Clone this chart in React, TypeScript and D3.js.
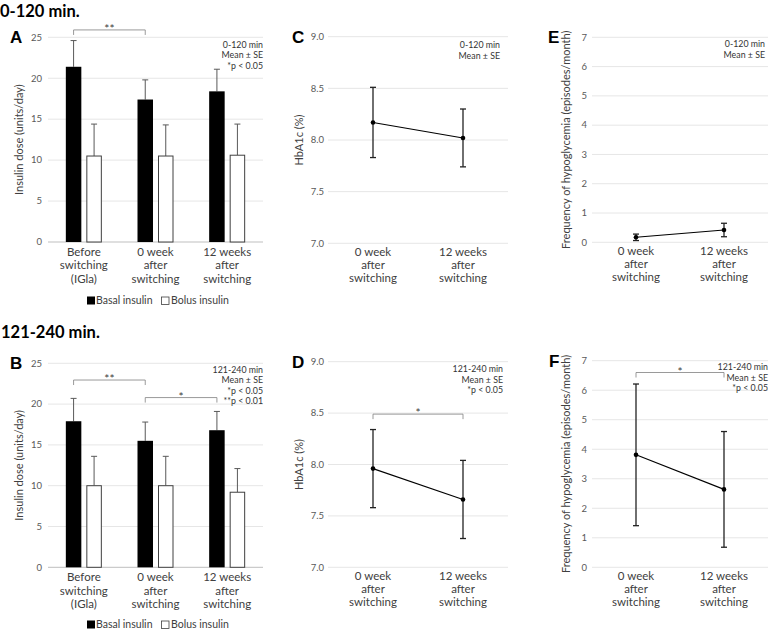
import React from "react";
import * as d3 from "d3";

// ---------- data ----------
const barCategories = [
  ["Before", "switching", "(IGla)"],
  ["0 week", "after", "switching"],
  ["12 weeks", "after", "switching"],
];
const lineCategories = [
  ["0 week", "after", "switching"],
  ["12 weeks", "after", "switching"],
];
const barTicks = [0, 5, 10, 15, 20, 25];
const hba1cTicks = [7.0, 7.5, 8.0, 8.5, 9.0];
const hypoTicks = [0, 1, 2, 3, 4, 5, 6, 7];

// Panel A (0-120 min)
const basalA = [21.4, 17.4, 18.4];
const basalASE = [3.2, 2.4, 2.7];
const bolusA = [10.5, 10.5, 10.6];
const bolusASE = [3.9, 3.8, 3.8];
// Panel B (121-240 min)
const basalB = [17.9, 15.5, 16.8];
const basalBSE = [2.8, 2.3, 2.3];
const bolusB = [10.0, 10.0, 9.2];
const bolusBSE = [3.6, 3.6, 2.9];
// Panel C / D HbA1c
const hba1cC = [8.17, 8.02];
const hba1cCSE = [0.34, 0.28];
const hba1cD = [7.96, 7.66];
const hba1cDSE = [0.38, 0.38];
// Panel E / F hypoglycemia
const hypoE = [0.17, 0.42];
const hypoESE = [0.11, 0.23];
const hypoF = [3.81, 2.64];
const hypoFSE = [2.4, 1.96];

const notesA = ["0-120 min", "Mean ± SE", "*p < 0.05"];
const notesB = ["121-240 min", "Mean ± SE", "*p < 0.05", "**p < 0.01"];
const notesC = ["0-120 min", "Mean ± SE"];
const notesD = ["121-240 min", "Mean ± SE", "*p < 0.05"];
const notesE = ["0-120 min", "Mean ± SE"];
const notesF = ["121-240 min", "Mean ± SE", "*p < 0.05"];

const FONT = "Lato, 'Open Sans', sans-serif";
const TICK_COLOR = "#595959";
const TEXT_COLOR = "#404040";
const GRID = "#e6e6e6";

type Bracket = { from: number; to: number; level: number; label: string };

function Notes({ x, y, lines }: { x: number; y: number; lines: string[] }) {
  return (
    <g>
      {lines.map((t, i) => (
        <text key={i} x={x} y={y + i * 10.6} textAnchor="end" fontSize={8.8} fill="#333" fontFamily={FONT}>
          {t}
        </text>
      ))}
    </g>
  );
}

function CategoryLabels({ cats, xs, y, spacing }: { cats: string[][]; xs: number[]; y: number; spacing: number }) {
  return (
    <g>
      {cats.map((lines, i) => (
        <text key={i} textAnchor="middle" fontSize={11.5} fill={TEXT_COLOR} fontFamily={FONT}>
          {lines.map((l, j) => (
            <tspan key={j} x={xs[i]} y={y + j * spacing}>
              {l}
            </tspan>
          ))}
        </text>
      ))}
    </g>
  );
}

function BarPanel(props: {
  letter: string;
  top: number;
  bottom: number;
  basal: number[];
  basalSE: number[];
  bolus: number[];
  bolusSE: number[];
  brackets: Bracket[];
  notes: string[];
  notesY: number;
  legendY: number;
}) {
  const { letter, top, bottom, basal, basalSE, bolus, bolusSE, brackets, notes, notesY, legendY } = props;
  const left = 48;
  const right = 263;
  const y = d3.scaleLinear().domain([0, 25]).range([bottom, top]);
  const x = d3.scaleBand<number>().domain(d3.range(barCategories.length)).range([left, right]).padding(0);
  const inner = d3.scaleBand<string>().domain(["basal", "bolus"]).range([-18, 18]).paddingInner(0.244).paddingOuter(0);
  const bw = inner.bandwidth();
  const center = (i: number) => (x(i) as number) + x.bandwidth() / 2;
  const basalCenter = (i: number) => center(i) + (inner("basal") as number) + bw / 2;
  const series = [
    { key: "basal", vals: basal, se: basalSE, fill: "#000", stroke: "none" },
    { key: "bolus", vals: bolus, se: bolusSE, fill: "#fff", stroke: "#404040" },
  ];
  return (
    <g>
      <text x={10} y={top + 6} fontSize={17} fontWeight="bold" fontFamily="'Liberation Sans', Arial, sans-serif" fill="#000">
        {letter}
      </text>
      {barTicks.map((t) => (
        <g key={t}>
          <line x1={left} x2={right} y1={y(t)} y2={y(t)} stroke={t === 0 ? "#bfbfbf" : GRID} strokeWidth={1} />
          <text x={42} y={y(t) + 3.3} textAnchor="end" fontSize={9.5} fill={TICK_COLOR} fontFamily={FONT}>
            {d3.format("d")(t)}
          </text>
        </g>
      ))}
      <text
        transform={`translate(23,${(top + bottom) / 2}) rotate(-90)`}
        textAnchor="middle"
        fontSize={11}
        fill={TEXT_COLOR}
        fontFamily={FONT}
      >
        Insulin dose (units/day)
      </text>
      {series.map((s) =>
        s.vals.map((v, i) => {
          const bx = center(i) + (inner(s.key) as number);
          const cx = bx + bw / 2;
          const yt = y(v + s.se[i]);
          return (
            <g key={s.key + i}>
              <line x1={cx} x2={cx} y1={y(v)} y2={yt} stroke="#595959" strokeWidth={1} />
              <line x1={cx - 3} x2={cx + 3} y1={yt} y2={yt} stroke="#595959" strokeWidth={1} />
              <rect
                x={bx + (s.stroke === "none" ? 0 : 0.5)}
                y={y(v)}
                width={bw - (s.stroke === "none" ? 0 : 1)}
                height={y(0) - y(v)}
                fill={s.fill}
                stroke={s.stroke}
                strokeWidth={1}
              />
            </g>
          );
        })
      )}
      {brackets.map((b, k) => {
        const x1 = basalCenter(b.from);
        const x2 = basalCenter(b.to);
        const by = y(b.level);
        return (
          <g key={k}>
            <path d={`M${x1},${by + 5}V${by}H${x2}V${by + 5}`} fill="none" stroke="#808080" strokeWidth={0.8} />
            <text x={(x1 + x2) / 2} y={by + 3} textAnchor="middle" fontSize={12} fill="#404040" fontFamily={FONT}>
              {b.label}
            </text>
          </g>
        );
      })}
      <Notes x={263} y={notesY} lines={notes} />
      <CategoryLabels cats={barCategories} xs={barCategories.map((_, i) => center(i))} y={bottom + 14} spacing={13.3} />
      <g fontFamily={FONT} fontSize={10.5} fill={TEXT_COLOR}>
        <rect x={87} y={legendY - 7.5} width={8} height={8} fill="#000" />
        <text x={96} y={legendY}>Basal insulin</text>
        <rect x={161.5} y={legendY - 7} width={7.5} height={7.5} fill="#fff" stroke="#404040" strokeWidth={0.8} />
        <text x={171} y={legendY}>Bolus insulin</text>
      </g>
    </g>
  );
}

function LinePanel(props: {
  letter: string;
  letterX: number;
  left: number;
  right: number;
  top: number;
  bottom: number;
  domain: [number, number];
  ticks: number[];
  fmt: string;
  tickX: number;
  titleX: number;
  title: string;
  vals: number[];
  se: number[];
  bracket?: { level: number; label: string };
  notes: string[];
  notesX: number;
  notesY: number;
}) {
  const p = props;
  const y = d3.scaleLinear().domain(p.domain).range([p.bottom, p.top]);
  const x = d3.scaleBand<number>().domain(d3.range(lineCategories.length)).range([p.left, p.right]).padding(0);
  const cx = (i: number) => (x(i) as number) + x.bandwidth() / 2;
  const line = d3
    .line<number>()
    .x((_, i) => cx(i))
    .y((d) => y(d));
  return (
    <g>
      <text x={p.letterX} y={p.top + 6} fontSize={17} fontWeight="bold" fontFamily="'Liberation Sans', Arial, sans-serif" fill="#000">
        {p.letter}
      </text>
      {p.ticks.map((t) => (
        <g key={t}>
          <line x1={p.left} x2={p.right} y1={y(t)} y2={y(t)} stroke={GRID} strokeWidth={1} />
          <text x={p.tickX} y={y(t) + 3.3} textAnchor="end" fontSize={9.5} fill={TICK_COLOR} fontFamily={FONT}>
            {d3.format(p.fmt)(t)}
          </text>
        </g>
      ))}
      <text
        transform={`translate(${p.titleX},${(p.top + p.bottom) / 2}) rotate(-90)`}
        textAnchor="middle"
        fontSize={11}
        fill={TEXT_COLOR}
        fontFamily={FONT}
      >
        {p.title}
      </text>
      {p.vals.map((v, i) => {
        const hi = y(v + p.se[i]);
        const lo = y(v - p.se[i]);
        const c = cx(i);
        return (
          <g key={i} stroke="#222" strokeWidth={1.3}>
            <line x1={c} x2={c} y1={hi} y2={lo} />
            <line x1={c - 3} x2={c + 3} y1={hi} y2={hi} />
            <line x1={c - 3} x2={c + 3} y1={lo} y2={lo} />
          </g>
        );
      })}
      <path d={line(p.vals) || ""} fill="none" stroke="#000" strokeWidth={1.1} />
      {p.vals.map((v, i) => (
        <circle key={i} cx={cx(i)} cy={y(v)} r={2.3} fill="#000" />
      ))}
      {p.bracket && (
        <g>
          <path
            d={`M${cx(0)},${y(p.bracket.level) + 5}V${y(p.bracket.level)}H${cx(1)}V${y(p.bracket.level) + 5}`}
            fill="none"
            stroke="#808080"
            strokeWidth={0.8}
          />
          <text x={(cx(0) + cx(1)) / 2} y={y(p.bracket.level) + 3} textAnchor="middle" fontSize={12} fill="#404040" fontFamily={FONT}>
            {p.bracket.label}
          </text>
        </g>
      )}
      <Notes x={p.notesX} y={p.notesY} lines={p.notes} />
      <CategoryLabels cats={lineCategories} xs={lineCategories.map((_, i) => cx(i))} y={p.bottom + 13} spacing={12.6} />
    </g>
  );
}

export default function App() {
  return (
    <svg width={770} height={630} style={{ position: "absolute", left: 0, top: 0, background: "#fff" }}>
      <rect width={770} height={630} fill="#fff" />
      <text x={0} y={16.5} fontSize={16.5} fontWeight="bold" fontFamily={FONT} fill="#000">
        0-120 min.
      </text>
      <text x={1} y={338} fontSize={16.5} fontWeight="bold" fontFamily={FONT} fill="#000">
        121-240 min.
      </text>
      <BarPanel
        letter="A"
        top={37.3}
        bottom={242}
        basal={basalA}
        basalSE={basalASE}
        bolus={bolusA}
        bolusSE={bolusASE}
        brackets={[{ from: 0, to: 1, level: 25.9, label: "**" }]}
        notes={notesA}
        notesY={47.5}
        legendY={304}
      />
      <BarPanel
        letter="B"
        top={363.3}
        bottom={567.3}
        basal={basalB}
        basalSE={basalBSE}
        bolus={bolusB}
        bolusSE={bolusBSE}
        brackets={[
          { from: 0, to: 1, level: 22.95, label: "**" },
          { from: 1, to: 2, level: 20.8, label: "*" },
        ]}
        notes={notesB}
        notesY={372.5}
        legendY={628}
      />
      <LinePanel
        letter="C"
        letterX={292}
        left={328}
        right={508}
        top={36.7}
        bottom={243.3}
        domain={[7, 9]}
        ticks={hba1cTicks}
        fmt=".1f"
        tickX={324}
        titleX={303}
        title="HbA1c (%)"
        vals={hba1cC}
        se={hba1cCSE}
        notes={notesC}
        notesX={500}
        notesY={48}
      />
      <LinePanel
        letter="D"
        letterX={292}
        left={328}
        right={508}
        top={361.7}
        bottom={567.3}
        domain={[7, 9]}
        ticks={hba1cTicks}
        fmt=".1f"
        tickX={324}
        titleX={303}
        title="HbA1c (%)"
        vals={hba1cD}
        se={hba1cDSE}
        bracket={{ level: 8.49, label: "*" }}
        notes={notesD}
        notesX={503}
        notesY={372}
      />
      <LinePanel
        letter="E"
        letterX={548}
        left={592}
        right={768}
        top={37.3}
        bottom={242.3}
        domain={[0, 7]}
        ticks={hypoTicks}
        fmt="d"
        tickX={587}
        titleX={570}
        title="Frequency of hypoglycemia (episodes/month)"
        vals={hypoE}
        se={hypoESE}
        notes={notesE}
        notesX={765}
        notesY={47}
      />
      <LinePanel
        letter="F"
        letterX={549}
        left={592}
        right={768}
        top={360.7}
        bottom={567.3}
        domain={[0, 7]}
        ticks={hypoTicks}
        fmt="d"
        tickX={587}
        titleX={570}
        title="Frequency of hypoglycemia (episodes/month)"
        vals={hypoF}
        se={hypoFSE}
        bracket={{ level: 6.6, label: "*" }}
        notes={notesF}
        notesX={768}
        notesY={370}
      />
    </svg>
  );
}
